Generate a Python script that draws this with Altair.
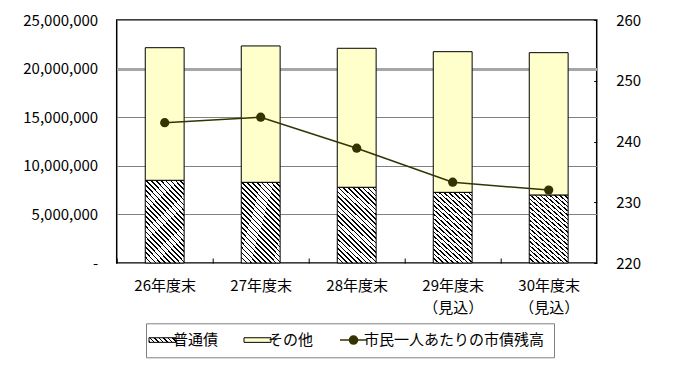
import json
import altair as alt
import pandas as pd

categories = ["26年度末", "27年度末", "28年度末", "29年度末\n（見込）", "30年度末\n（見込）"]
futsu = [8510000, 8300000, 7790000, 7270000, 7000000]
sonota = [13640000, 14030000, 14300000, 14470000, 14640000]
per_capita = [243.1, 244.0, 238.9, 233.3, 232.0]
series = ["普通債", "その他", "市民一人あたりの市債残高"]
left_ticks = [0, 5000000, 10000000, 15000000, 20000000, 25000000]
right_ticks = [220, 230, 240, 250, 260]

FONT = "Noto Sans CJK JP"

bar_rows = []
for c, a, b in zip(categories, futsu, sonota):
    bar_rows.append({"年度": c, "系列": series[0], "値": a, "順": 0})
    bar_rows.append({"年度": c, "系列": series[1], "値": b, "順": 1})
bar_df = pd.DataFrame(bar_rows)
line_df = pd.DataFrame({"年度": categories, "系列": [series[2]] * len(categories), "値": per_capita})
legend_df = pd.DataFrame({"年度": [categories[0]] * 3, "系列": series, "色": ["a", "b", "c"], "値": [240, 240, 240]})


def stripes(n, duty=0.33):
    stops = []
    for i in range(n):
        a = i / n
        b = (i + duty) / n
        c = (i + 1) / n
        stops += [
            {"offset": round(a, 5), "color": "#000000"},
            {"offset": round(b, 5), "color": "#000000"},
            {"offset": round(b, 5), "color": "#ffffff"},
            {"offset": round(c, 5), "color": "#ffffff"},
        ]
    return stops


bar_grad = {"gradient": "linear", "x1": 0, "y1": 1, "x2": 0.6, "y2": -0.2, "stops": stripes(24)}
legend_grad = {"gradient": "linear", "x1": 0, "y1": 1, "x2": 1.137, "y2": 0.807, "stops": stripes(7)}

line_name = series[2]
RECT = "M-1,-0.17H1V0.17H-1Z"
LINEDOT = "M-1,0H1M-0.3,0A0.3,0.3,0,1,1,0.3,0A0.3,0.3,0,1,1,-0.3,0Z"

legend = alt.Legend(
    orient="none",
    legendX=29.3,
    legendY=303.3,
    direction="horizontal",
    title=None,
    strokeColor="#808080",
    fillColor="white",
    padding=9,
    labelFont=FONT,
    labelFontSize=15,
    labelColor="black",
    labelLimit=400,
    labelOffset=3,
    columnPadding=23,
    symbolSize=729,
    symbolOpacity=1,
    symbolFillColor={
        "expr": "datum.value === '普通債' ? " + json.dumps(legend_grad, ensure_ascii=False)
        + " : (datum.value === 'その他' ? '#FFFFCC' : '#333300')"
    },
    symbolStrokeColor={"expr": "datum.value === '" + line_name + "' ? '#333300' : '#000000'"},
    symbolStrokeWidth={"expr": "datum.value === '" + line_name + "' ? 1.5 : 1"},
)

x_enc = alt.X(
    "年度:N",
    sort=categories,
    scale=alt.Scale(paddingInner=0.595, paddingOuter=0.2975),
    axis=alt.Axis(
        title=None,
        domain=False,
        grid=False,
        ticks=True,
        tickSize=5,
        tickColor="black",
        offset=-5,
        bandPosition=0,
        tickOffset=-28.56,
        labelOffset=28.56,
        labelAngle=0,
        labelPadding=15,
        labelFont=FONT,
        labelFontSize=15,
        labelColor="black",
        labelLineHeight=22,
        labelBaseline="top",
        labelExpr="split(datum.label, '\\n')",
    ),
)

bars = alt.Chart(bar_df).mark_bar(stroke="black", strokeWidth=1).encode(
    x=x_enc,
    y=alt.Y(
        "値:Q",
        stack="zero",
        scale=alt.Scale(domain=[0, 25000000]),
        axis=alt.Axis(
            title=None,
            values=left_ticks,
            domain=False,
            ticks=False,
            tickSize=0,
            grid=True,
            gridColor={"condition": {"test": "datum.value === 20000000", "value": "#A6A6A6"}, "value": "#808080"},
            gridWidth={"condition": {"test": "datum.value === 20000000", "value": 3}, "value": 1},
            labelPadding=19,
            labelFont=FONT,
            labelFontSize=15,
            labelColor="black",
            labelExpr="datum.value == 0 ? '-' : format(datum.value, ',')",
        ),
    ),
    color=alt.condition(
        alt.datum["系列"] == "普通債",
        alt.value(bar_grad),
        alt.value("#FFFFCC"),
    ),
    detail="系列:N",
    order=alt.Order("順:Q"),
)

line = alt.Chart(line_df).mark_line(color="#333300", strokeWidth=1.5).encode(
    x=alt.X("年度:N", sort=categories),
    y=alt.Y(
        "値:Q",
        scale=alt.Scale(domain=[220, 260]),
        axis=alt.Axis(
            orient="right",
            title=None,
            values=right_ticks,
            domain=False,
            grid=False,
            ticks=False,
            tickSize=0,
            labelPadding=19,
            labelAlign="left",
            labelFont=FONT,
            labelFontSize=15,
            labelColor="black",
        ),
    ),
)

points = alt.Chart(line_df).mark_point(filled=True, size=85, color="#333300", opacity=1).encode(
    x=alt.X("年度:N", sort=categories),
    y=alt.Y(
        "値:Q",
        scale=alt.Scale(domain=[220, 260]),
        axis=alt.Axis(
            orient="right",
            title=None,
            values=right_ticks,
            domain=False,
            grid=False,
            labels=False,
            ticks=True,
            tickSize=3,
            tickColor="black",
            offset=-3,
        ),
    ),
)

legend_layer = alt.Chart(legend_df).mark_point(filled=True, size=0).encode(
    x=alt.X("年度:N", sort=categories),
    y=alt.Y("値:Q", scale=alt.Scale(domain=[220, 260]), axis=None),
    color=alt.Color("色:N", legend=None),
    shape=alt.Shape("系列:N", scale=alt.Scale(domain=series, range=[RECT, RECT, LINEDOT]), legend=legend),
)

chart = (
    alt.layer(bars, line, points, legend_layer)
    .resolve_scale(y="independent")
    .properties(
        width=480,
        height=243,
        autosize=alt.AutoSizeParams(type="none"),
        padding={"left": 108.7, "top": 12, "right": 95.3, "bottom": 114},
        background="white",
    )
    .configure_view(stroke="black", strokeWidth=1.5)
    .configure_axisRight(labelPadding=19)
)

chart.save("out.html", embed_options={"renderer": "svg", "actions": False})
